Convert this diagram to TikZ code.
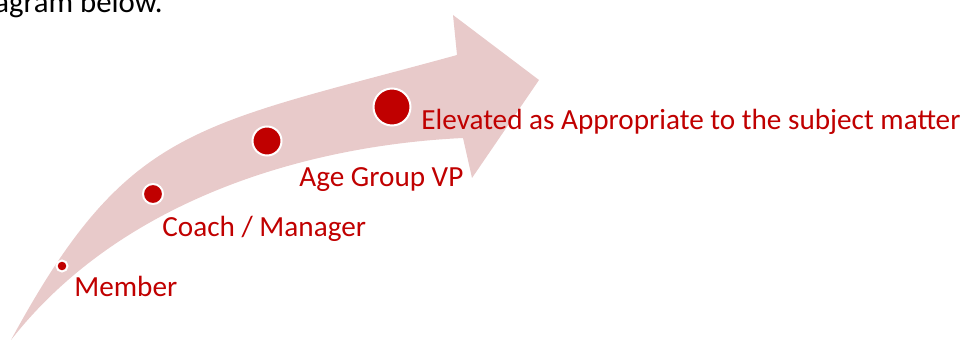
\documentclass[tikz,border=0pt]{standalone}
\usepackage{fontspec}
\setmainfont{Carlito}
\definecolor{darkred}{HTML}{C00000}
\definecolor{arrowpink}{HTML}{E8CACA}
\begin{document}
\begin{tikzpicture}[x=0.5pt,y=-0.5pt,
  lbl/.style={anchor=base west, inner sep=0pt, text=darkred, font=\fontsize{14.6}{17}\selectfont},
  dot/.style={circle, fill=darkred, draw=white, line width=1pt, inner sep=0pt}]
\clip (0,0) rectangle (968,341);
\fill[arrowpink] (11,340) .. controls (128,124) and (195,127) .. (457,55)
  -- (453,15) -- (539,80) -- (472,178) -- (463,138)
  .. controls (305.5,145.5) and (120.5,200) .. (11,340) -- cycle;
\node[anchor=base west, inner sep=0pt, text=black, font=\fontsize{15.4}{18}\selectfont] (top) at (-6,12.5) {agram below.};
\node[dot, minimum size=5.5pt] (dm) at (62,266) {};
\node[dot, minimum size=10pt] (dc) at (153,194) {};
\node[dot, minimum size=14.5pt] (da) at (267,141) {};
\node[dot, minimum size=18.5pt] (de) at (392,107) {};
\node[lbl] (tm) at (74,297) {Member};
\node[lbl] (tc) at (162,237) {Coach / Manager};
\node[lbl] (ta) at (299,187) {Age Group VP};
\node[lbl] (te) at (421,130) {Elevated as Appropriate to the subject matter};
\end{tikzpicture}
\end{document}
